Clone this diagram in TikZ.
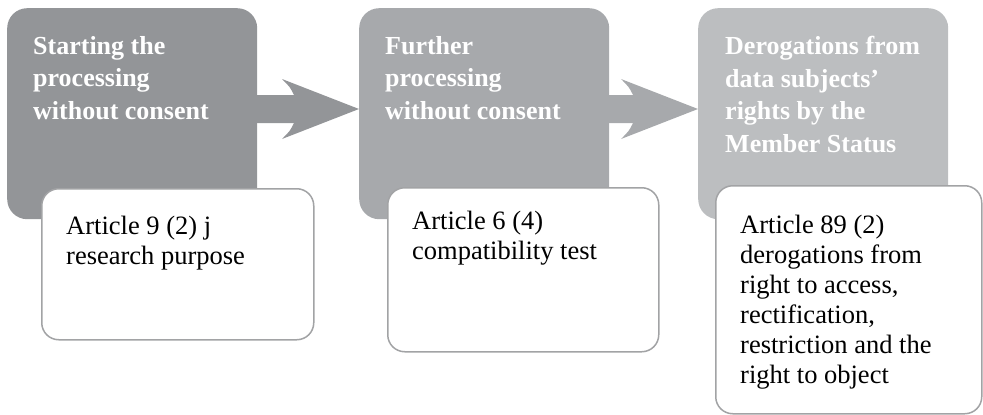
\documentclass[tikz,border=0pt]{standalone}
\usepackage{fontspec}
\setmainfont{Liberation Serif}
\usetikzlibrary{calc}

\definecolor{greyA}{HTML}{939598}
\definecolor{greyB}{HTML}{A7A9AC}
\definecolor{greyC}{HTML}{BCBEC0}
\definecolor{edgegrey}{HTML}{A2A3A5}

% Block arrow from the right side of one stage box to the left side of the next
\newcommand\stagearrow[3]{%
  \fill[#3]
    ($(#1.north east)+(-1,87)$) -- ($(#2.north west)+(-65,87)$)
    .. controls ($(#2.north west)+(-69,79)$) .. ($(#2.north west)+(-77,71)$)
    -- ($(#2.north west)+(0,101)$)
    -- ($(#2.north west)+(-77,131)$)
    .. controls ($(#2.north west)+(-69,123)$) .. ($(#2.north west)+(-65,115)$)
    -- ($(#1.north east)+(-1,115)$) -- cycle;}

\begin{document}
\begin{tikzpicture}[x=1pt,y=-1pt,
  stage/.style={rectangle, rounded corners=20pt, inner sep=0pt, anchor=north west,
    minimum width=250pt, minimum height=211pt},
  detail/.style={rectangle, rounded corners=17pt, inner sep=0pt, anchor=north west,
    fill=white, draw=edgegrey, line width=1.5pt},
  headtext/.style={anchor=north west, inner sep=0pt, align=left, text=white,
    font=\fontsize{26}{32.5}\selectfont\bfseries},
  bodytext/.style={anchor=north west, inner sep=0pt, align=left, text=black,
    font=\fontsize{26.5}{30}\selectfont}]

\useasboundingbox (0,0) rectangle (983,415);

% stage boxes
\node[stage, fill=greyA] (b1) at (7,8) {};
\node[stage, fill=greyB] (b2) at (359,8) {};
\node[stage, fill=greyC] (b3) at (698,8) {};

% arrows between the stages
\stagearrow{b1}{b2}{greyA}
\stagearrow{b2}{b3}{greyB}

% article boxes
\node[detail, minimum width=272pt, minimum height=151pt] (w1) at (41,188) {};
\node[detail, minimum width=271pt, minimum height=164pt] (w2) at (387,187) {};
\node[detail, minimum width=266pt, minimum height=228pt] (w3) at (715,185) {};

% stage titles
\node[headtext] (h1) at (33,36) {Starting the\\processing\\without consent};
\node[headtext] (h2) at (385,36) {Further\\processing\\without consent};
\node[headtext] (h3) at (725,36) {Derogations from\\data subjects’\\rights by the\\Member Status};

% article texts
\node[bodytext] (a1) at (66,216) {Article 9 (2) j\\research purpose};
\node[bodytext] (a2) at (412,211) {Article 6 (4)\\compatibility test};
\node[bodytext] (a3) at (740,215) {Article 89 (2)\\derogations from\\right to access,\\rectification,\\restriction and the\\right to object};

\end{tikzpicture}
\end{document}
